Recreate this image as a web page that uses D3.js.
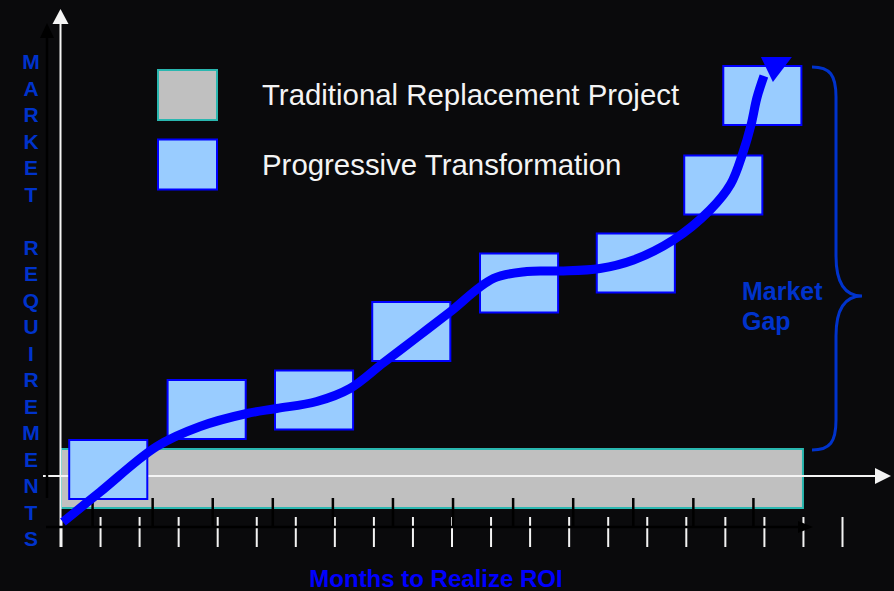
<!DOCTYPE html>
<html>
<head>
<meta charset="utf-8">
<script src="https://cdn.jsdelivr.net/npm/d3@7"></script>
<style>
  html, body { margin: 0; padding: 0; background: #0a0a0c; }
  svg { display: block; font-family: "Liberation Sans", Arial, sans-serif; }
</style>
</head>
<body>
<svg id="chart" width="894" height="591"></svg>
<script>
// ---- data (months on x, requirement level on y) ----
var legendLabels = ["Traditional Replacement Project", "Progressive Transformation"];
var monthTicks = d3.range(0, 21);            // white ticks
var shadowTicks = d3.range(1, 13);           // black ticks of the shadow axis

// traditional project band
var bandMonths = [0, 19];
var bandLevels = [3.8, 15.6];

// progressive steps: start month and top level, each 2 months wide
var stepMonths = [0.21, 2.73, 5.48, 7.97, 10.73, 13.72, 15.96, 16.96];
var stepTops   = [17.4, 29.4, 31.3, 45.0, 54.7, 58.7, 74.3, 92.2];
var stepWidth = 2, stepHeight = 11.8;

// the curve
var curveMonths = [0.05, 1.0, 2.45, 3.56, 4.76, 5.52, 6.55, 7.40, 8.25, 9.11, 9.96, 11.07, 11.93, 12.78, 13.80, 14.66, 15.68, 16.62, 17.15, 17.46, 17.67, 17.82, 18.0];
var curveLevels = [1.0, 7.0, 16.1, 20.1, 22.7, 23.7, 25.1, 27.7, 32.8, 37.9, 43.0, 49.7, 51.1, 51.2, 51.7, 53.4, 57.4, 63.4, 68.6, 74.8, 80.4, 85.8, 90.2];

var gapMid = 46.2;   // level where the brace points
var yLabel = "MARKET REQUIREMENTS";
var xLabel = "Months to Realize ROI";
var gapLabel = ["Market", "Gap"];

// ---- scales ----
var x = d3.scaleLinear().domain([0, 20]).range([61, 842]);
var y = d3.scaleLinear().domain([0, 100]).range([527, 27]);
var xs = d3.scaleLinear().domain([0, 13]).range([32, 813]);

var blue = "#0000ff", darkBlue = "#0033cc", light = "#99ccff", teal = "#2ab7b0";
var svg = d3.select("#chart");

svg.append("rect").attr("width", 894).attr("height", 591).attr("fill", "#0a0a0c");

// black shadow y axis with arrow
svg.append("line").attr("x1", 47).attr("x2", 47).attr("y1", 36).attr("y2", y(5.8))
  .attr("stroke", "#000").attr("stroke-width", 2.5);
svg.append("path").attr("d", "M47,23 L40,38 L54,38 Z").attr("fill", "#000");

// band
svg.append("rect")
  .attr("x", x(bandMonths[0])).attr("y", y(bandLevels[1]))
  .attr("width", x(bandMonths[1]) - x(bandMonths[0]))
  .attr("height", y(bandLevels[0]) - y(bandLevels[1]))
  .attr("fill", "#c0c0c0").attr("stroke", teal).attr("stroke-width", 2);

// white x axis line with arrow
var yZero = y(10.2);
svg.append("line").attr("x1", 43).attr("x2", 877).attr("y1", yZero).attr("y2", yZero)
  .attr("stroke", "#f4f4f4").attr("stroke-width", 2);
svg.append("path").attr("d", "M891," + yZero + " L875," + (yZero - 8) + " L875," + (yZero + 8) + " Z")
  .attr("fill", "#f4f4f4");
svg.append("line").attr("x1", 47).attr("x2", 47).attr("y1", yZero - 4).attr("y2", yZero + 4)
  .attr("stroke", "#000").attr("stroke-width", 2.5);

// white ticks
var wAxis = svg.append("g").attr("transform", "translate(0,517)")
  .call(d3.axisBottom(x).tickValues(monthTicks).tickSize(30).tickFormat(""));
wAxis.select(".domain").remove();
wAxis.selectAll("line").attr("stroke", "#f4f4f4").attr("stroke-width", 2);

// white y axis with arrow
svg.append("line").attr("x1", 60.5).attr("x2", 60.5).attr("y1", 22).attr("y2", 547)
  .attr("stroke", "#f4f4f4").attr("stroke-width", 2);
svg.append("path").attr("d", "M60.5,9 L52.5,24 L68.5,24 Z").attr("fill", "#f4f4f4");

// black shadow ticks + x axis
var bAxis = svg.append("g").attr("transform", "translate(0,527)")
  .call(d3.axisTop(xs).tickValues(shadowTicks).tickSize(29).tickFormat(""));
bAxis.select(".domain").remove();
bAxis.selectAll("line").attr("stroke", "#000").attr("stroke-width", 2.5);
svg.append("line").attr("x1", 46).attr("x2", 800).attr("y1", 527).attr("y2", 527)
  .attr("stroke", "#000").attr("stroke-width", 2.5);
svg.append("path").attr("d", "M813,527 L798,521 L798,533 Z").attr("fill", "#000");

// steps
svg.selectAll(".step").data(stepMonths).enter().append("rect")
  .attr("class", "step")
  .attr("x", function(d) { return x(d); })
  .attr("y", function(d, i) { return y(stepTops[i]); })
  .attr("width", function(d) { return x(d + stepWidth) - x(d); })
  .attr("height", function(d, i) { return y(stepTops[i] - stepHeight) - y(stepTops[i]); })
  .attr("fill", light).attr("stroke", blue).attr("stroke-width", 2);

// curve
var pts = curveMonths.map(function(m, i) { return [x(m), y(curveLevels[i])]; });
var line = d3.line().curve(d3.curveCatmullRom.alpha(0.5));
svg.append("path").attr("d", line(pts))
  .attr("fill", "none").attr("stroke", blue).attr("stroke-width", 9).attr("stroke-linecap", "butt");
var end = pts[pts.length - 1];
svg.append("path")
  .attr("d", "M" + (end[0] - 3) + "," + (end[1] - 19) + " L" + (end[0] + 28) + "," + (end[1] - 19) +
             " L" + (end[0] + 9) + "," + (end[1] + 6) + " Z")
  .attr("fill", blue);

// brace
var bTop = y(stepTops[7]) + 1, bBot = y(bandLevels[1]) + 1, bMid = y(gapMid);
svg.append("path")
  .attr("d", "M812," + bTop + " C830," + bTop + " 836," + (bTop + 8) + " 836," + (bTop + 30) +
             " L836," + (bMid - 40) + " C836," + (bMid - 8) + " 848," + bMid + " 862," + bMid +
             " C848," + bMid + " 836," + (bMid + 8) + " 836," + (bMid + 40) +
             " L836," + (bBot - 30) + " C836," + (bBot - 8) + " 830," + bBot + " 812," + bBot)
  .attr("fill", "none").attr("stroke", darkBlue).attr("stroke-width", 3);

svg.selectAll(".gap").data(gapLabel).enter().append("text")
  .attr("x", 742).attr("y", function(d, i) { return 300 + i * 30; })
  .attr("fill", darkBlue).attr("font-size", 25).attr("font-weight", "bold")
  .text(function(d) { return d; });

// legend
var legFill = ["#c0c0c0", light], legStroke = [teal, blue];
legendLabels.forEach(function(t, i) {
  svg.append("rect").attr("x", 158).attr("y", 70 + i * 69.5).attr("width", 59).attr("height", 50)
    .attr("fill", legFill[i]).attr("stroke", legStroke[i]).attr("stroke-width", 2);
  svg.append("text").attr("x", 262).attr("y", 105 + i * 70)
    .attr("fill", "#f4f4f4").attr("font-size", 29.4).text(t);
});

// axis titles
svg.selectAll(".ylab").data(yLabel.split("")).enter().append("text")
  .attr("x", 31).attr("y", function(d, i) { return 69 + i * 26.5; })
  .attr("text-anchor", "middle").attr("fill", darkBlue)
  .attr("font-size", 21).attr("font-weight", "bold")
  .text(function(d) { return d; });

svg.append("text").attr("x", 436).attr("y", 587).attr("text-anchor", "middle")
  .attr("fill", blue).attr("font-size", 24).attr("font-weight", "bold").text(xLabel);
</script>
</body>
</html>
